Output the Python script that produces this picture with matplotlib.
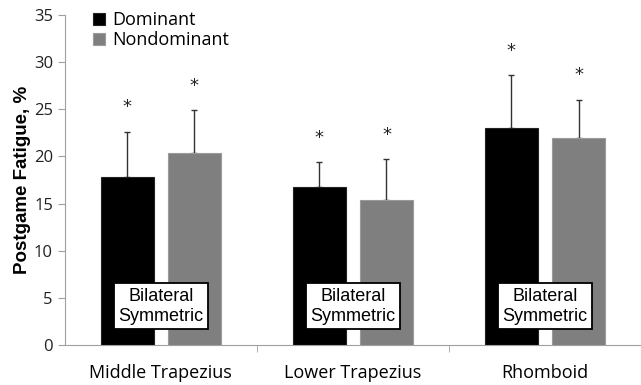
import numpy as np
import matplotlib.pyplot as plt

muscles = ['Middle Trapezius', 'Lower Trapezius', 'Rhomboid']
dominant = [17.8, 16.8, 23.0]
dominant_err = [4.8, 2.6, 5.6]
nondominant = [20.4, 15.4, 22.0]
nondominant_err = [4.5, 4.3, 4.0]
star_gap = 2.6

plt.rcParams['font.family'] = ['Open Sans', 'DejaVu Sans']

fig = plt.figure(figsize=(6.41, 3.85), dpi=100)
ax = fig.add_axes([0.101, 0.104, 0.899, 0.857])

x = np.arange(len(muscles))
w = 0.277
off = 0.175

ax.bar(x - off, dominant, w, color='black', edgecolor='#222222', linewidth=0.8,
       label='Dominant', zorder=2)
ax.bar(x + off, nondominant, w, color='#7f7f7f', edgecolor='#9a9a9a', linewidth=0.8,
       label='Nondominant', zorder=2)

ax.errorbar(x - off, dominant, yerr=[np.zeros(3), dominant_err], fmt='none',
            ecolor='#333333', elinewidth=1, capsize=2.5, capthick=1, zorder=1)
ax.errorbar(x + off, nondominant, yerr=[np.zeros(3), nondominant_err], fmt='none',
            ecolor='#333333', elinewidth=1, capsize=2.5, capthick=1, zorder=1)

for i in range(len(muscles)):
    ax.text(x[i] - off, dominant[i] + dominant_err[i] + star_gap, '*', ha='center',
            va='center', fontsize=13, color='#222222', family='DejaVu Sans')
    ax.text(x[i] + off, nondominant[i] + nondominant_err[i] + star_gap, '*', ha='center',
            va='center', fontsize=13, color='#222222', family='DejaVu Sans')
    ax.text(x[i], 4.1, 'Bilateral\nSymmetric', ha='center', va='center', fontsize=13,
            family=['Liberation Sans', 'DejaVu Sans'], linespacing=1.25, zorder=4,
            bbox=dict(boxstyle='square,pad=0.25', facecolor='white', edgecolor='black',
                      linewidth=1.3))

ax.set_xlim(-0.5, 2.5)
ax.set_ylim(0, 35)
ax.set_yticks(range(0, 36, 5))
ax.set_xticks(x)
ax.set_xticklabels(muscles, fontsize=13)
ax.set_xticks([0.5, 1.5], minor=True)
ax.tick_params(axis='x', which='major', length=0, pad=14)
ax.tick_params(axis='x', which='minor', length=5, color='#a0a0a0')
ax.tick_params(axis='y', length=5, color='#a0a0a0', labelsize=12, labelcolor='#222222')

for s in ['top', 'right']:
    ax.spines[s].set_visible(False)
for s in ['left', 'bottom']:
    ax.spines[s].set_color('#a0a0a0')

ax.set_ylabel('Postgame Fatigue, %', fontsize=13.5, fontweight='bold',
              family=['Liberation Sans', 'DejaVu Sans'], labelpad=2)

ax.legend(loc='upper left', bbox_to_anchor=(0.02, 1.06), frameon=False, fontsize=13,
          handlelength=0.7, handleheight=0.7, handletextpad=0.4, labelspacing=0.1)

fig.savefig('out.png', dpi=100)
